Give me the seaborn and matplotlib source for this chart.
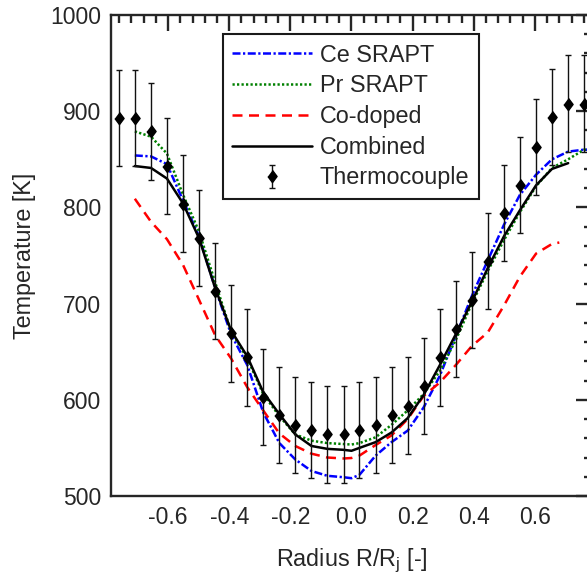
import numpy as np
import pandas as pd
import matplotlib
matplotlib.use('Agg')
import matplotlib.pyplot as plt
from matplotlib.ticker import MultipleLocator
import seaborn as sns

# thermocouple measurements
r_tc = [-0.761, -0.709, -0.656, -0.604, -0.551, -0.499, -0.446, -0.394, -0.341, -0.289,
        -0.236, -0.184, -0.131, -0.079, -0.026, 0.026, 0.079, 0.131, 0.184, 0.236,
        0.289, 0.341, 0.394, 0.446, 0.499, 0.551, 0.604, 0.656, 0.709, 0.761]
t_tc = [893, 893, 879, 843, 804, 768, 713, 669, 644, 603,
        584, 574, 569, 564, 564, 569, 574, 584, 594, 614,
        644, 674, 704, 744, 794, 823, 863, 894, 908, 908]
err_tc = [50] * len(r_tc)

# model profiles
r_comb = [-0.709, -0.656, -0.604, -0.551, -0.499, -0.446, -0.394, -0.341, -0.289, -0.236,
          -0.184, -0.131, -0.079, -0.026, 0.0, 0.026, 0.079, 0.131, 0.184, 0.236,
          0.289, 0.341, 0.394, 0.446, 0.499, 0.551, 0.604, 0.656, 0.709]
t_comb = [843, 841, 830, 804, 768, 716, 672, 645, 608, 585,
          564, 552, 549, 548, 547, 550, 556, 566, 581, 605,
          636, 668, 702, 737, 770, 797, 823, 840, 846]

r_ce = r_comb + [0.761, 0.79]
t_ce = [854, 853, 845, 807, 770, 716, 668, 636, 587, 555,
        538, 526, 521, 519.5, 518.5, 522, 542, 556, 568, 592,
        625, 666, 708, 745, 782, 813, 834, 850, 858, 860, 860]

r_pr = r_comb + [0.761, 0.79]
t_pr = [879, 873.5, 856, 813, 775, 722, 671, 643, 606, 583,
        564, 557.5, 555, 554, 553.5, 555, 561, 574, 589, 606,
        630, 662, 700, 734, 766, 795, 822, 841, 850, 860, 862]

r_co = r_comb[:-1] + [0.68]
t_co = [809, 785, 767, 740, 704, 667, 643, 613, 589, 565,
        552, 544, 540, 539, 539.5, 542, 553, 563, 580, 604,
        618, 636, 656, 670, 698, 728, 752, 762, 763.5]

sns.set_style('white')
plt.rcParams['font.family'] = ['Liberation Sans', 'DejaVu Sans']
plt.rcParams['mathtext.fontset'] = 'custom'
plt.rcParams['mathtext.rm'] = 'Liberation Sans'
plt.rcParams['mathtext.it'] = 'Liberation Sans'

dark = '#262626'

fig = plt.figure(figsize=(5.87, 5.85), dpi=100)
ax = fig.add_axes([111 / 587, 89 / 585, 481 / 587, 481 / 585])

lw = 1.8
sns.lineplot(x=r_ce, y=t_ce, ax=ax, color='#0000FF', lw=lw, errorbar=None,
             linestyle=(0, (3.2, 1.0, 0.9, 1.0)), label='Ce SRAPT')
sns.lineplot(x=r_pr, y=t_pr, ax=ax, color='#008000', lw=lw, errorbar=None,
             linestyle=(0, (0.9, 0.9)), label='Pr SRAPT')
sns.lineplot(x=r_co, y=t_co, ax=ax, color='#FF0000', lw=lw, errorbar=None,
             linestyle=(0, (4, 2.6)), label='Co-doped')
sns.lineplot(x=r_comb, y=t_comb, ax=ax, color='black', lw=lw, errorbar=None,
             label='Combined')

diamond = [(0, 1), (0.75, 0), (0, -1), (-0.75, 0)]
ax.errorbar(r_tc, t_tc, yerr=err_tc, fmt=' ', marker=diamond, markersize=8.8,
            color='black', ecolor='#111111', elinewidth=1.0, capsize=2, capthick=1.0,
            label='Thermocouple', zorder=5)

ax.set_xlim(-0.787, 0.787)
ax.set_ylim(500, 1000)
ax.set_xticks([-0.6, -0.4, -0.2, 0.0, 0.2, 0.4, 0.6])
ax.set_xticklabels(['-0.6', '-0.4', '-0.2', '0.0', '0.2', '0.4', '0.6'])
ax.set_yticks([500, 600, 700, 800, 900, 1000])
ax.xaxis.set_minor_locator(MultipleLocator(0.04))
ax.yaxis.set_minor_locator(MultipleLocator(20))

ax.tick_params(which='both', direction='in', top=True, right=True, color=dark,
               labelcolor=dark, labelsize=16.5, pad=7)
ax.tick_params(which='major', length=11.3, width=1.7)
ax.tick_params(which='minor', length=5.6, width=1.7)
for sp in ax.spines.values():
    sp.set_linewidth(1.7)
    sp.set_color(dark)

ax.set_xlabel('Radius R/R$_{\\mathregular{j}}$ [-]', fontsize=16.8, color=dark, labelpad=13)
ax.set_ylabel('Temperature [K]', fontsize=16.8, color=dark, labelpad=10)

leg = ax.legend(loc='upper left', bbox_to_anchor=(0.233, 0.960), borderaxespad=0,
                fontsize=16.8, frameon=True, fancybox=False, framealpha=1,
                edgecolor='#1a1a1a', handlelength=3.4, handletextpad=0.35,
                borderpad=0.4, labelspacing=0.33)
leg.get_frame().set_linewidth(1.5)

fig.savefig('out.png', dpi=100)
